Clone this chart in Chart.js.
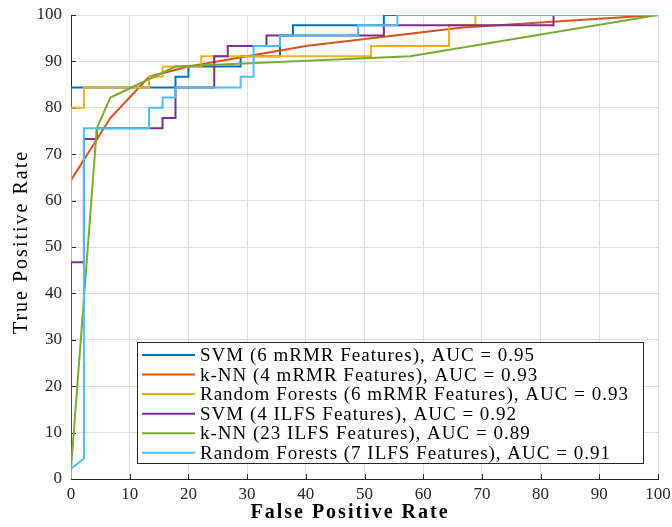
<!DOCTYPE html>
<html>
<head>
<meta charset="utf-8">
<script src="https://cdn.jsdelivr.net/npm/chart.js@4/dist/chart.umd.min.js"></script>
<style>
  html, body { margin: 0; padding: 0; background: #ffffff; }
  #wrap { width: 672px; height: 527px; }
</style>
</head>
<body>
<div id="wrap"><canvas id="roc"></canvas></div>
<script>
// ROC curves: false positive rate (%) vs true positive rate (%)
const axisTicks = [0, 10, 20, 30, 40, 50, 60, 70, 80, 90, 100];
const xTitle = 'False Positive Rate';
const yTitle = 'True Positive Rate';

const seriesLabels = [
  'SVM (6 mRMR Features), AUC = 0.95',
  'k-NN (4 mRMR Features), AUC = 0.93',
  'Random Forests (6 mRMR Features), AUC = 0.93',
  'SVM (4 ILFS Features), AUC = 0.92',
  'k-NN (23 ILFS Features), AUC = 0.89',
  'Random Forests (7 ILFS Features), AUC = 0.91'
];
const seriesColors = ['#0072BD', '#D95319', '#EDB120', '#7E2F8E', '#77AC30', '#4DBEEE'];

const svmMrmrFpr = [0, 0, 17.8, 17.8, 20, 20, 28.9, 28.9, 35.6, 35.6, 37.8, 37.8, 53.3, 53.3, 100];
const svmMrmrTpr = [0, 84.4, 84.4, 86.7, 86.7, 88.9, 88.9, 91.1, 91.1, 95.6, 95.6, 97.8, 97.8, 100, 100];

const knnMrmrFpr = [0, 0, 6.7, 13.3, 20, 40, 66.7, 100];
const knnMrmrTpr = [0, 64.4, 77.8, 86.7, 88.9, 93.3, 97.3, 100];

const rfMrmrFpr = [0, 0, 2.2, 2.2, 13.3, 13.3, 15.6, 15.6, 22.2, 22.2, 51.1, 51.1, 64.4, 64.4, 68.9, 68.9, 100];
const rfMrmrTpr = [0, 80, 80, 84.4, 84.4, 86.7, 86.7, 88.9, 88.9, 91.1, 91.1, 93.3, 93.3, 97.8, 97.8, 100, 100];

const svmIlfsFpr = [0, 0, 2.2, 2.2, 4.4, 4.4, 15.6, 15.6, 17.8, 17.8, 24.4, 24.4, 26.7, 26.7, 33.3, 33.3, 53.3, 53.3, 82.2, 82.2, 100];
const svmIlfsTpr = [0, 46.7, 46.7, 73.3, 73.3, 75.6, 75.6, 77.8, 77.8, 84.4, 84.4, 91.1, 91.1, 93.3, 93.3, 95.6, 95.6, 97.8, 97.8, 100, 100];

const knnIlfsFpr = [0, 0, 4.4, 6.7, 17.8, 57.8, 100];
const knnIlfsTpr = [0, 2.2, 75.6, 82.2, 88.9, 91.1, 100];

const rfIlfsFpr = [0, 0, 2.2, 2.2, 13.3, 13.3, 15.6, 15.6, 17.8, 17.8, 28.9, 28.9, 31.1, 31.1, 35.6, 35.6, 48.9, 48.9, 55.6, 55.6, 100];
const rfIlfsTpr = [0, 2.2, 4.4, 75.6, 75.6, 80, 80, 82.2, 82.2, 84.4, 84.4, 86.7, 86.7, 93.3, 93.3, 95.6, 95.6, 97.8, 97.8, 100, 100];

const curves = [
  [svmMrmrFpr, svmMrmrTpr],
  [knnMrmrFpr, knnMrmrTpr],
  [rfMrmrFpr, rfMrmrTpr],
  [svmIlfsFpr, svmIlfsTpr],
  [knnIlfsFpr, knnIlfsTpr],
  [rfIlfsFpr, rfIlfsTpr]
];

const serif = "'Liberation Serif', 'DejaVu Serif', serif";
const inkColor = '#262626';

const datasets = curves.map(([fpr, tpr], i) => ({
  label: seriesLabels[i],
  data: fpr.map((x, k) => ({ x, y: tpr[k] })),
  borderColor: seriesColors[i],
  backgroundColor: seriesColors[i],
  borderWidth: 2,
  pointRadius: 0,
  showLine: true,
  tension: 0,
  fill: false,
  order: curves.length - i   // later series drawn on top
}));

// Short inward tick marks on the left and bottom axes
const inwardTicks = {
  id: 'inwardTicks',
  beforeDatasetsDraw(chart) {
    const { ctx, chartArea, scales } = chart;
    ctx.save();
    ctx.strokeStyle = inkColor;
    ctx.lineWidth = 1;
    ctx.beginPath();
    scales.x.ticks.forEach(t => {
      const px = Math.round(scales.x.getPixelForValue(t.value)) + 0.5;
      ctx.moveTo(px, chartArea.bottom);
      ctx.lineTo(px, chartArea.bottom - 5);
    });
    scales.y.ticks.forEach(t => {
      const py = Math.round(scales.y.getPixelForValue(t.value)) + 0.5;
      ctx.moveTo(chartArea.left, py);
      ctx.lineTo(chartArea.left + 5, py);
    });
    ctx.stroke();
    ctx.restore();
  }
};

// Boxed legend inside the lower right of the plot area
const boxedLegend = {
  id: 'boxedLegend',
  afterDatasetsDraw(chart) {
    const { ctx } = chart;
    const box = { x: 137.5, y: 342.5, w: 506, h: 121 };
    const rowTop = 355, rowStep = 19.55;
    ctx.save();
    ctx.fillStyle = '#ffffff';
    ctx.fillRect(box.x, box.y, box.w, box.h);
    ctx.strokeStyle = inkColor;
    ctx.lineWidth = 1;
    ctx.strokeRect(box.x, box.y, box.w, box.h);
    ctx.font = '19px ' + serif;
    ctx.letterSpacing = '1px';
    ctx.textBaseline = 'middle';
    ctx.textAlign = 'left';
    chart.data.datasets.forEach((ds, i) => {
      const y = rowTop + i * rowStep;
      ctx.strokeStyle = ds.borderColor;
      ctx.lineWidth = 2;
      ctx.beginPath();
      ctx.moveTo(142, y);
      ctx.lineTo(195, y);
      ctx.stroke();
      ctx.fillStyle = '#000000';
      ctx.fillText(ds.label, 200, y + 1);
    });
    ctx.restore();
  }
};

// Axis titles: bold x title below the axis, upright-rotated y title on the left
const axisTitles = {
  id: 'axisTitles',
  afterDraw(chart) {
    const { ctx } = chart;
    ctx.save();
    ctx.fillStyle = '#000000';
    ctx.textAlign = 'center';
    ctx.textBaseline = 'middle';
    ctx.font = 'bold 20px ' + serif;
    ctx.letterSpacing = '2px';
    ctx.fillText(xTitle, 350, 513);
    ctx.font = '20px ' + serif;
    ctx.letterSpacing = '2px';
    ctx.translate(22, 242);
    ctx.rotate(-Math.PI / 2);
    ctx.fillText(yTitle, 0, 0);
    ctx.restore();
  }
};

function fixedBox(w, h) {
  return function (scale) {
    if (w !== null) scale.width = w;
    if (h !== null) scale.height = h;
    scale.paddingTop = 0;
    scale.paddingBottom = 0;
    scale.paddingLeft = 0;
    scale.paddingRight = 0;
  };
}

new Chart(document.getElementById('roc'), {
  type: 'scatter',
  data: { datasets },
  options: {
    responsive: true,
    maintainAspectRatio: false,
    animation: false,
    layout: { padding: { top: 15, right: 14, left: 0, bottom: 0 } },
    plugins: {
      legend: { display: false },
      tooltip: { enabled: false }
    },
    scales: {
      x: {
        type: 'linear',
        min: 0,
        max: 100,
        afterBuildTicks(scale) { scale.ticks = axisTicks.map(v => ({ value: v })); },
        afterFit: fixedBox(null, 48),
        ticks: {
          color: inkColor,
          font: { family: serif, size: 17 },
          padding: 5,
          maxRotation: 0
        },
        grid: { color: '#dfdfdf', lineWidth: 1, drawTicks: false },
        border: { color: inkColor, width: 1 }
      },
      y: {
        type: 'linear',
        min: 0,
        max: 100,
        afterBuildTicks(scale) { scale.ticks = axisTicks.map(v => ({ value: v })); },
        afterFit: fixedBox(71, null),
        ticks: {
          color: inkColor,
          font: { family: serif, size: 17 },
          padding: 9
        },
        grid: { color: '#dfdfdf', lineWidth: 1, drawTicks: false },
        border: { color: inkColor, width: 1 }
      }
    }
  },
  plugins: [inwardTicks, boxedLegend, axisTitles]
});
</script>
</body>
</html>
